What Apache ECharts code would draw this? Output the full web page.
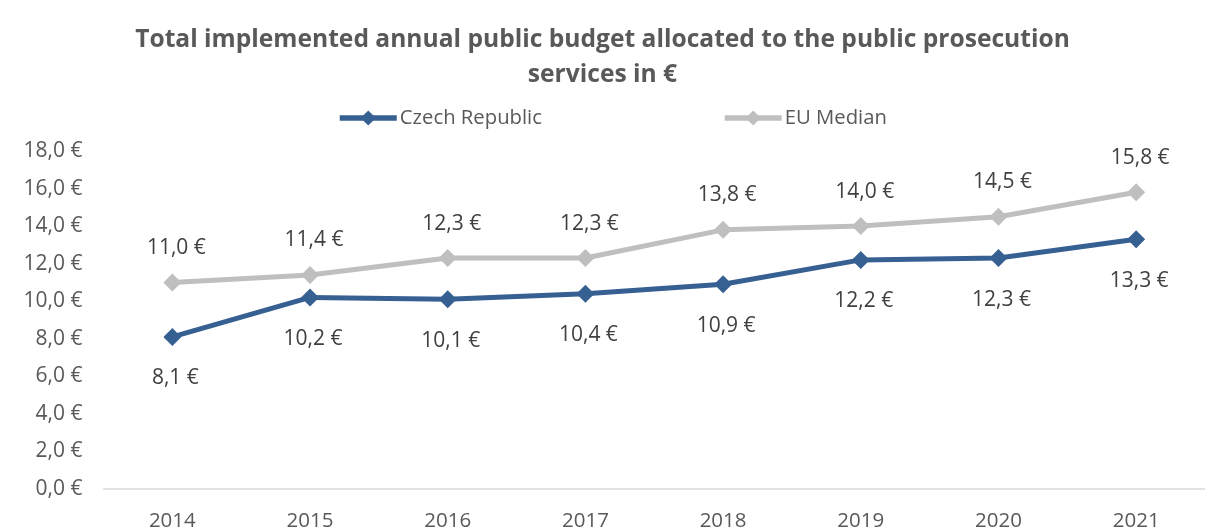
<!DOCTYPE html>
<html>
<head>
<meta charset="utf-8">
<script src="https://cdn.jsdelivr.net/npm/echarts@6/dist/echarts.min.js"></script>
<style>
html,body{margin:0;padding:0;background:#fff;}
#chart{width:1205px;height:532px;}
</style>
</head>
<body>
<div id="chart"></div>
<script>
const titleText = "Total implemented annual public budget allocated to the public prosecution\nservices in €";
const years = ["2014","2015","2016","2017","2018","2019","2020","2021"];
const czechRepublic = [8.1, 10.2, 10.1, 10.4, 10.9, 12.2, 12.3, 13.3];
const euMedian = [11.0, 11.4, 12.3, 12.3, 13.8, 14.0, 14.5, 15.8];
const seriesNames = ["Czech Republic", "EU Median"];

const fmt = v => v.toFixed(1).replace('.', ',') + ' €';
const FONT = "Open Sans";

const chart = echarts.init(document.getElementById('chart'));
chart.setOption({
  backgroundColor: '#ffffff',
  animation: false,
  title: {
    text: titleText,
    left: 'center',
    top: 17,
    textStyle: {
      fontFamily: FONT,
      fontWeight: 'bold',
      fontSize: 24.6,
      color: '#595959',
      lineHeight: 35
    }
  },
  legend: {
    top: 108,
    left: 337,
    padding: 0,
    itemWidth: 57,
    itemHeight: 19,
    itemGap: 180,
    lineStyle: { width: 5.5 },
    textStyle: { fontFamily: FONT, fontSize: 20.3, color: '#595959', padding: [0,0,0,-2] },
    data: seriesNames
  },
  grid: { left: 103.5, right: -11.6, top: 151, bottom: 43, containLabel: false },
  xAxis: {
    type: 'category',
    data: years,
    boundaryGap: true,
    axisLine: { show: true, lineStyle: { color: '#D9D9D9', width: 1.5 } },
    axisTick: { show: false },
    axisLabel: { fontFamily: FONT, fontSize: 20.5, color: '#595959', margin: 22 }
  },
  yAxis: {
    type: 'value',
    min: 0,
    max: 18,
    interval: 2,
    splitLine: { show: false },
    axisLine: { show: false },
    axisTick: { show: false },
    axisLabel: { fontFamily: FONT, fontSize: 21, color: '#595959', margin: 21, formatter: v => fmt(v) }
  },
  series: [
    {
      name: seriesNames[0],
      type: 'line',
      data: czechRepublic,
      symbol: 'diamond',
      symbolSize: 18,
      z: 3,
      lineStyle: { color: '#376092', width: 5 },
      itemStyle: { color: '#376092' },
      label: {
        show: true, position: 'bottom', distance: 22, offset: [3, 0],
        fontFamily: FONT, fontSize: 21, color: '#404040',
        formatter: p => fmt(p.value)
      }
    },
    {
      name: seriesNames[1],
      type: 'line',
      data: euMedian,
      symbol: 'diamond',
      symbolSize: 18,
      z: 2,
      lineStyle: { color: '#BFBFBF', width: 5 },
      itemStyle: { color: '#BFBFBF' },
      label: {
        show: true, position: 'top', distance: 15, offset: [4, 0],
        fontFamily: FONT, fontSize: 21, color: '#404040',
        formatter: p => fmt(p.value)
      }
    }
  ]
});
</script>
</body>
</html>
